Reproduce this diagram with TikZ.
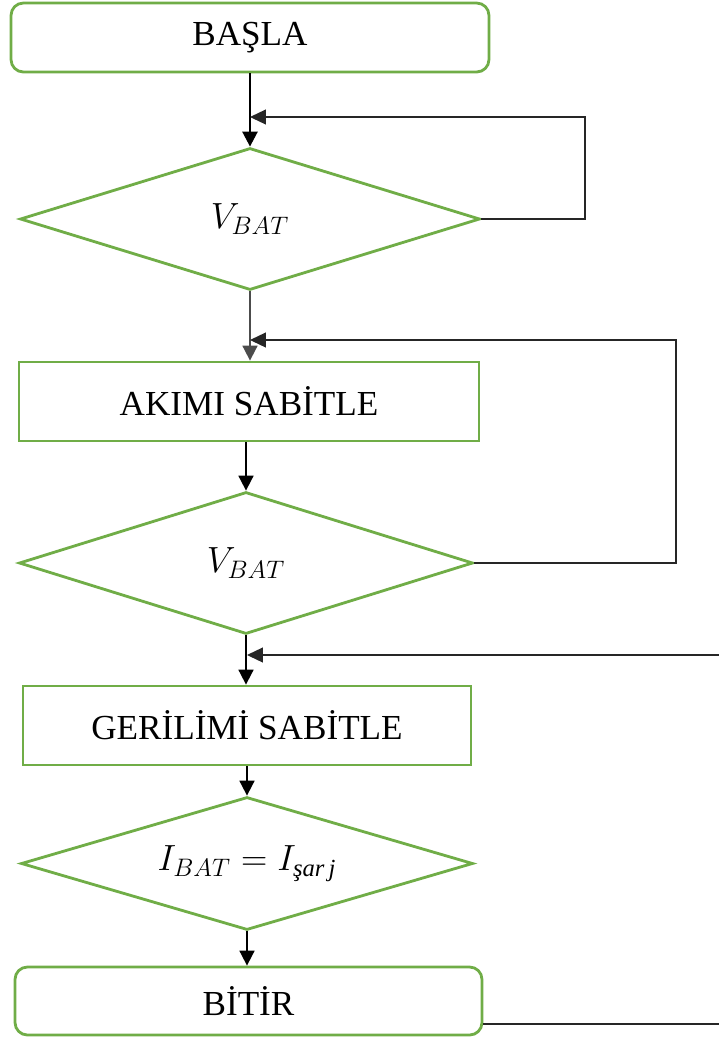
\documentclass[tikz,border=0pt]{standalone}
\usepackage{fontspec}
\usepackage{amsmath}
\setmainfont{Liberation Serif}
\usetikzlibrary{arrows.meta,shapes.geometric}

\definecolor{flowgreen}{RGB}{112,173,71}

\begin{document}
\begin{tikzpicture}[
    x=0.02cm, y=-0.02cm,
    font=\fontsize{20}{24}\selectfont,
    terminal/.style={
        rectangle,
        rounded corners=7pt,
        draw=flowgreen,
        line width=1.6pt,
        inner sep=0pt
    },
    process/.style={
        rectangle,
        draw=flowgreen,
        line width=1.6pt,
        inner sep=0pt
    },
    decision/.style={
        diamond,
        aspect=3.4,
        draw=flowgreen,
        line width=1.6pt,
        inner sep=0pt
    },
    flow/.style={-{Triangle[length=0.3cm,width=0.3cm]}, line width=1pt, draw=black},
    back/.style={-{Triangle[length=0.32cm,width=0.3cm]}, line width=0.7pt, draw=black!85}
]
\path[use as bounding box, clip] (0,0) rectangle (719,1039);

% =========================================================
% Steps
% =========================================================
\node[terminal, minimum width=9.56cm, minimum height=1.38cm] (basla) at (250,37.5) {BAŞLA};
\node[decision, minimum width=9.2cm, minimum height=2.84cm] (vbat1) at (250,219) {$V_{BAT}$};
\node[process, minimum width=9.2cm, minimum height=1.58cm] (akim) at (249,401.5) {AKIMI SABİTLE};
\node[decision, minimum width=9.08cm, minimum height=2.84cm] (vbat2) at (246,563) {$V_{BAT}$};
\node[process, minimum width=8.96cm, minimum height=1.58cm] (gerilim) at (247,725.5) {GERİLİMİ SABİTLE};
\node[decision, minimum width=9.04cm, minimum height=2.66cm] (ibat) at (247,863.5) {$I_{BAT} = I_{\text{\itshape şar\,j}}$};
\node[terminal, minimum width=9.34cm, minimum height=1.36cm] (bitir) at (248.5,1001) {BİTİR};

% Loop points
\coordinate (j1) at (250,117);
\coordinate (r1) at (585,117);
\coordinate (j2) at (250,340);
\coordinate (r2) at (676,340);
\coordinate (j3) at (247,655);
\coordinate (r3) at (740,655);

% =========================================================
% Connectors
% =========================================================
\draw[flow, line width=1.5pt] (basla) -- (vbat1);
\draw[flow, draw=black!70] (vbat1.south) -- (vbat1.south |- akim.north);
\draw[flow] (akim.south -| vbat2.north) -- (vbat2.north);
\draw[flow] (vbat2.south) -- (vbat2.south |- gerilim.north);
\draw[flow] (gerilim.south -| ibat.north) -- (ibat.north);
\draw[flow] (ibat.south) -- (ibat.south |- bitir.north);

% Feedback
\draw[back] (vbat1.east) -| (r1) -- (j1);
\draw[back] (vbat2.east) -| (r2) -- (j2);
\draw[back] ([yshift=-0.46cm]bitir.east) -| (r3) -- (j3);

\end{tikzpicture}
\end{document}
